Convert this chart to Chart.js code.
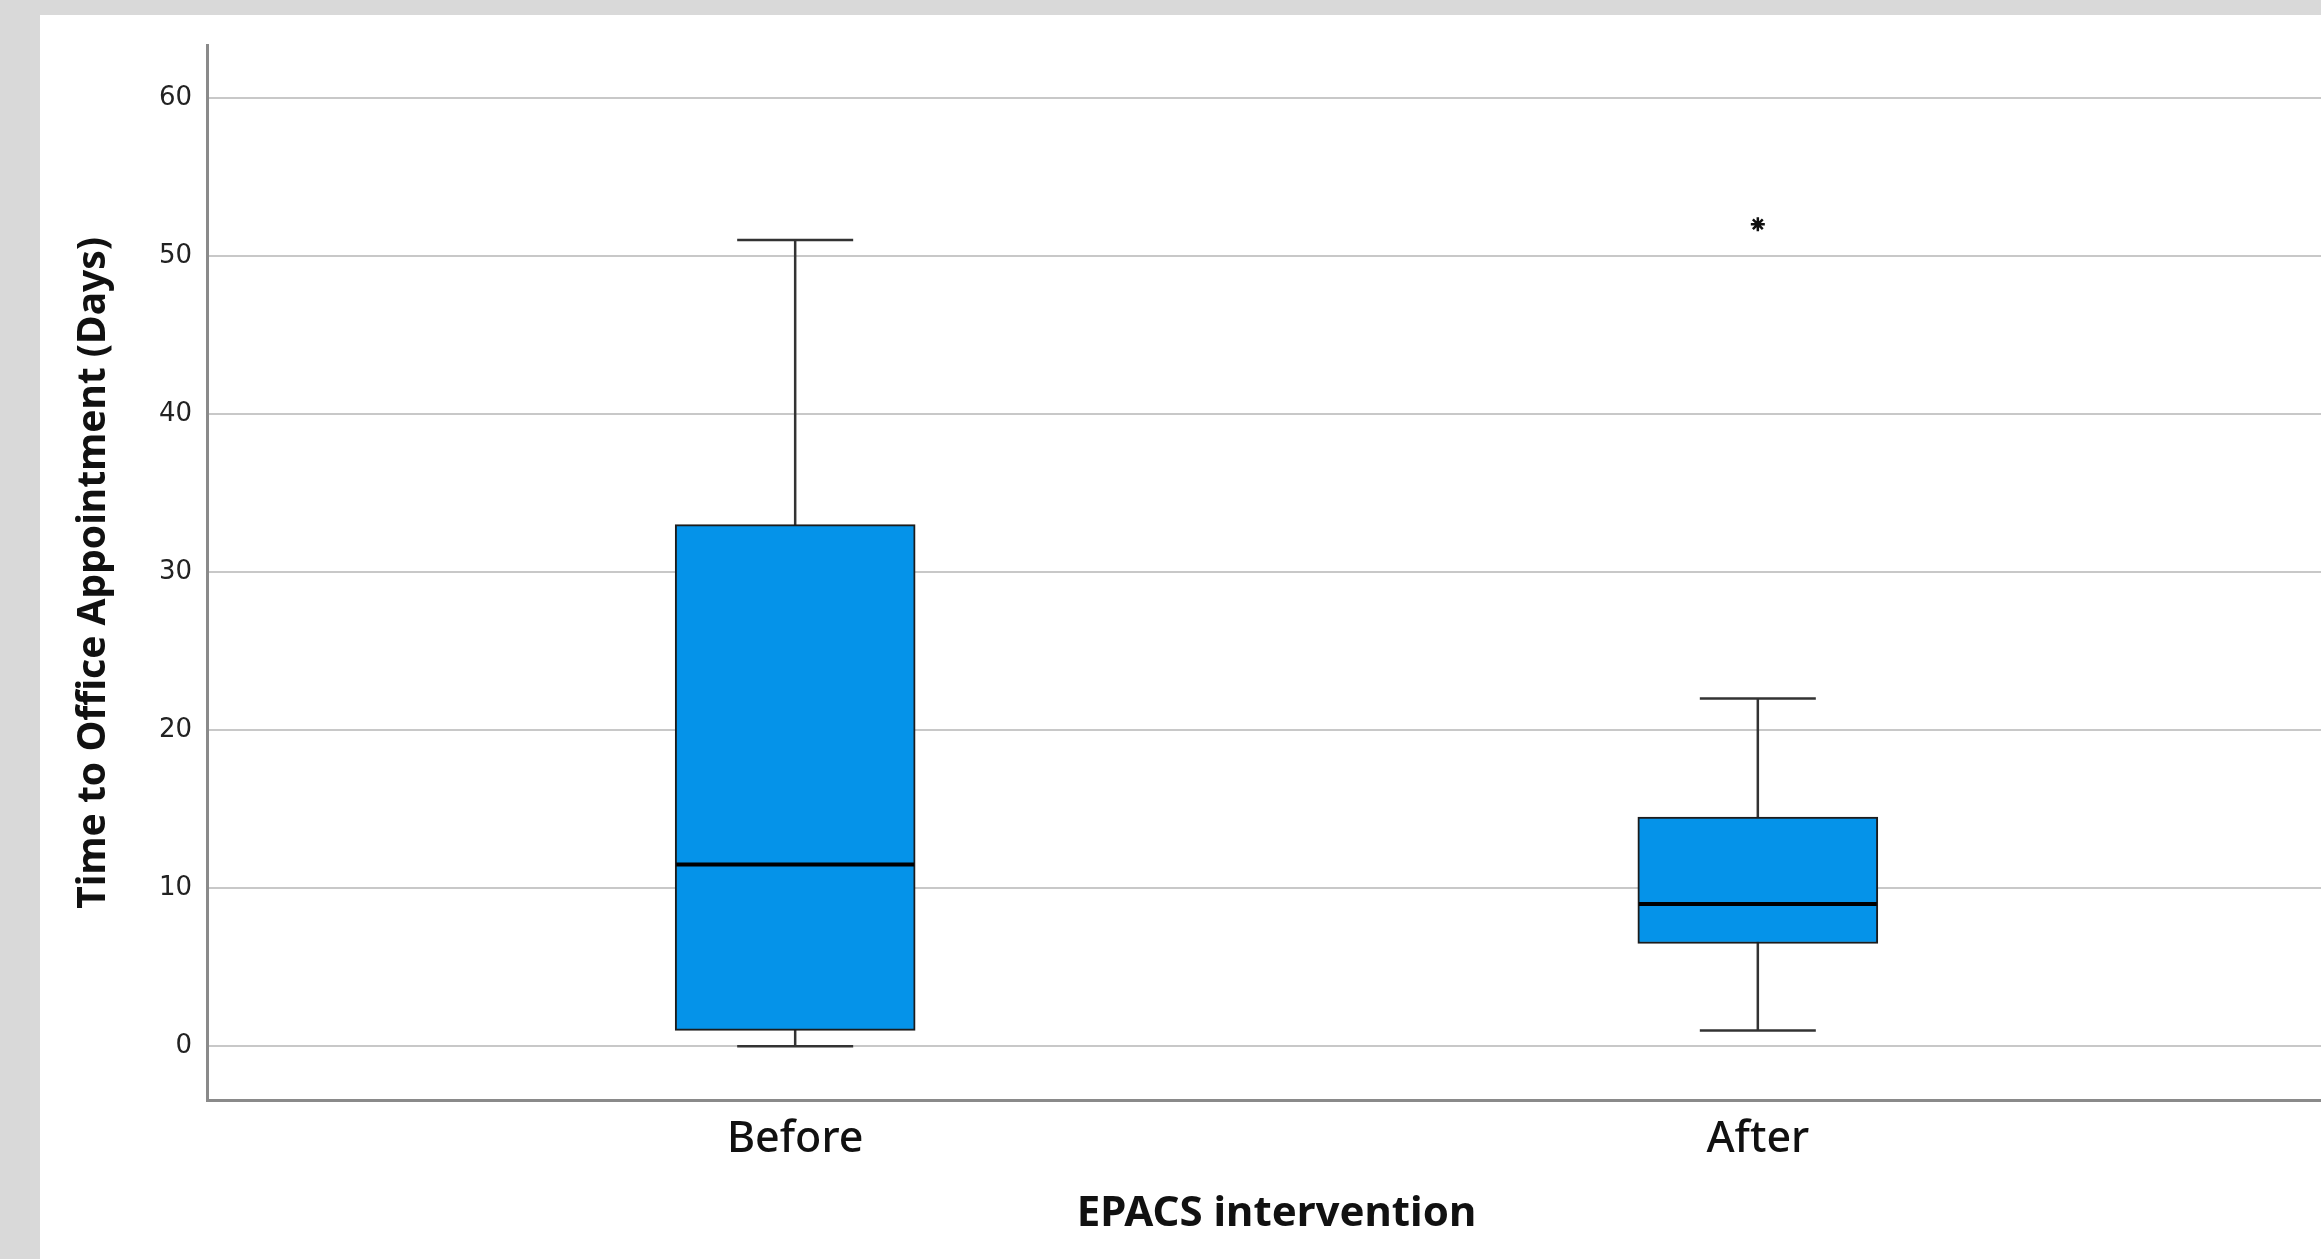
<!DOCTYPE html>
<html>
<head>
<meta charset="utf-8">
<script src="https://cdn.jsdelivr.net/npm/chart.js@4.4.0/dist/chart.umd.min.js"></script>
<style>
  html, body { margin: 0; padding: 0; background: #d9d9d9; overflow: hidden; }
  #wrap { position: absolute; left: 40px; top: 15px; width: 2306px; height: 1244px; background: #fff; }
</style>
</head>
<body>
<div id="wrap"><canvas id="boxChart"></canvas></div>
<script>
// box plot summary
const groups = ["Before", "After"];
const mins = [0, 1];
const q1s = [1, 6.5];
const medians = [11.5, 9];
const q3s = [33, 14.5];
const maxs = [51, 22];
const outliers = [[], [52]];
const yTicks = [0, 10, 20, 30, 40, 50, 60];

const boxBlue = "#0593e9";
const lineDark = "#333";

const ctx = document.getElementById("boxChart").getContext("2d");

// whiskers: one line per group from min to max, drawn behind the box
const whiskerSets = groups.map((g, i) => ({
  type: "scatter",
  showLine: true,
  data: [{ x: i + 1, y: mins[i] }, { x: i + 1, y: maxs[i] }],
  borderColor: lineDark,
  borderWidth: 2.5,
  pointRadius: 0,
  order: 4,
}));

const capSet = {
  type: "scatter",
  data: groups.flatMap((g, i) => [{ x: i + 1, y: mins[i] }, { x: i + 1, y: maxs[i] }]),
  pointStyle: "line",
  pointRadius: 58,
  borderColor: lineDark,
  borderWidth: 2.5,
  order: 3,
};

const boxSet = {
  type: "bar",
  data: groups.map((g, i) => ({ x: i + 1, y: [q1s[i], q3s[i]] })),
  backgroundColor: boxBlue,
  borderColor: "#1c1c1c",
  borderWidth: 2,
  borderSkipped: false,
  barThickness: 240,
  order: 2,
};

const medianSet = {
  type: "scatter",
  data: groups.map((g, i) => ({ x: i + 1, y: medians[i] })),
  pointStyle: "line",
  pointRadius: 119,
  borderColor: "#000",
  borderWidth: 4,
  order: 1,
};

const outlierSet = {
  type: "scatter",
  data: groups.flatMap((g, i) => outliers[i].map((v) => ({ x: i + 1, y: v }))),
  pointStyle: "star",
  pointRadius: 7,
  borderColor: "#111",
  borderWidth: 2.5,
  order: 0,
};

const chart = new Chart(ctx, {
  type: "bar",
  data: { datasets: [...whiskerSets, capSet, boxSet, medianSet, outlierSet] },
  options: {
    responsive: true,
    maintainAspectRatio: false,
    animation: false,
    events: [],
    layout: { autoPadding: false, padding: { top: 28, left: 0, right: 0, bottom: 0 } },
    plugins: { legend: { display: false }, tooltip: { enabled: false } },
    scales: {
      x: {
        type: "linear",
        offset: false,
        min: 0.389,
        max: 2.611,
        afterBuildTicks: (scale) => {
          scale.ticks = groups.map((g, i) => ({ value: i + 1 }));
        },
        afterFit: (scale) => {
          scale.height = 159;
        },
        grid: { display: true, drawOnChartArea: false, drawTicks: false },
        border: { display: true, color: "#8a8a8a", width: 3 },
        ticks: {
          padding: 14,
          color: "#111",
          font: { family: "'Noto Sans'", size: 43, weight: 500 },
          callback: (v) => groups[v - 1] || "",
        },
        title: {
          display: true,
          text: "EPACS intervention",
          color: "#111",
          font: { family: "'Noto Sans'", size: 42, weight: "bold" },
          padding: { top: 0, bottom: 20 },
        },
      },
      y: {
        min: -3.4,
        max: 63.3,
        afterBuildTicks: (scale) => {
          scale.ticks = yTicks.map((v) => ({ value: v }));
        },
        afterFit: (scale) => {
          scale.width = 167;
        },
        grid: { color: "#c8c8c8", lineWidth: 2, drawTicks: false },
        border: { display: true, color: "#8a8a8a", width: 3 },
        ticks: {
          padding: 15,
          color: "#222",
          font: { family: "'DejaVu Sans'", size: 26 },
        },
        title: {
          display: true,
          text: "Time to Office Appointment (Days)",
          color: "#111",
          font: { family: "'Noto Sans'", size: 39, weight: "bold" },
          padding: { top: 30, bottom: 0 },
        },
      },
    },
  },
});
</script>
</body>
</html>
